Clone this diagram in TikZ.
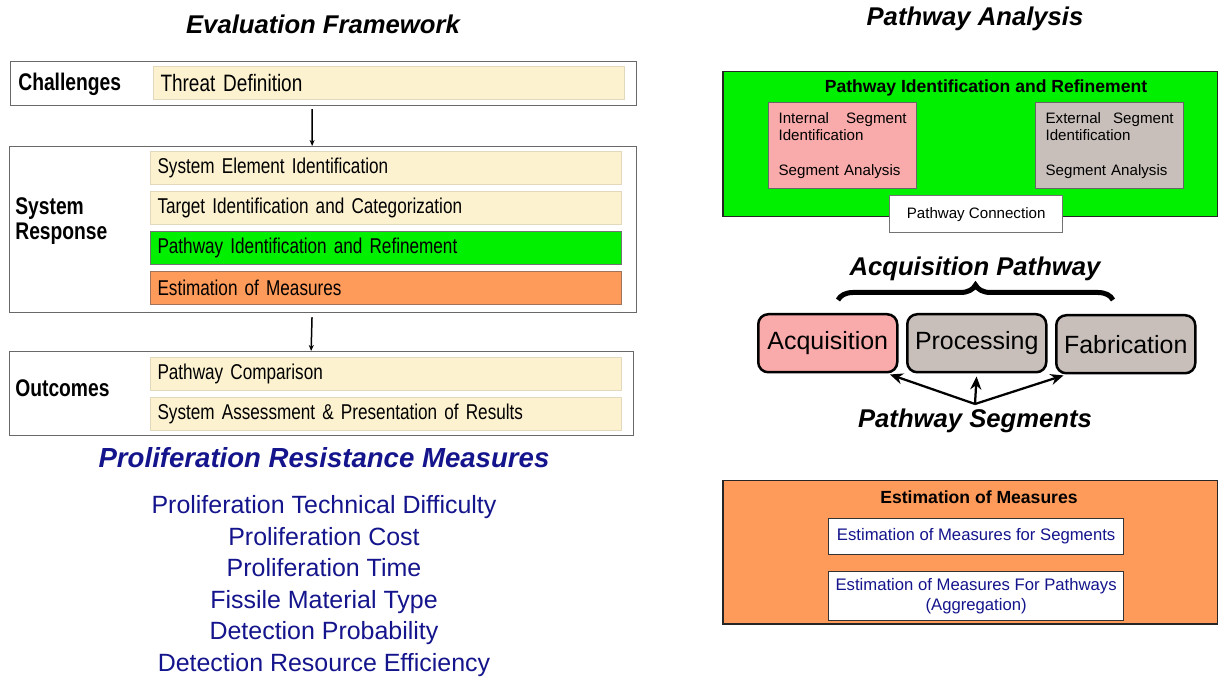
\documentclass[tikz,border=0pt]{standalone}
\usepackage{fontspec}
\setmainfont{Liberation Sans}
\newfontfamily\narrowsans[FakeStretch=0.8]{Liberation Sans}
\usetikzlibrary{arrows.meta,decorations.pathreplacing}

\definecolor{creamfill}{RGB}{252,242,208}
\definecolor{creamline}{RGB}{226,216,188}
\definecolor{greenfill}{RGB}{0,240,0}
\definecolor{orangefill}{RGB}{255,155,90}
\definecolor{orangeline}{RGB}{160,115,90}
\definecolor{pinkfill}{RGB}{249,170,170}
\definecolor{taupefill}{RGB}{200,191,186}
\definecolor{navytext}{RGB}{20,20,140}
\definecolor{frameline}{RGB}{105,105,105}

\newcommand\itemfont{\narrowsans\fontsize{12.2}{14}\selectfont\spaceskip=2.4pt plus 1pt\relax}
\newcommand\threatfont{\narrowsans\fontsize{13.5}{15}\selectfont\spaceskip=2.6pt plus 1pt\relax}

\begin{document}
\begin{tikzpicture}[x=0.2mm,y=-0.2mm,
  frame/.style={draw=frameline,line width=0.25mm,fill=white,anchor=north west,inner sep=0pt},
  item/.style={draw=creamline,line width=0.2mm,fill=creamfill,anchor=north west,
    minimum height=6.7mm,text width=91.4mm,inner xsep=1.4mm,inner ysep=0pt,align=left,
    font=\itemfont},
  stage/.style={anchor=west,inner sep=0pt,align=left,font=\narrowsans\bfseries\fontsize{13.7}{14.2}\selectfont},
  headline/.style={inner sep=0pt,font=\bfseries\itshape\fontsize{14.6}{17}\selectfont},
  panel/.style={draw=black!85,line width=0.3mm,anchor=north west,inner sep=0pt,minimum width=99mm},
  paneltitle/.style={inner sep=0pt,font=\bfseries\fontsize{10}{12}\selectfont},
  subbox/.style={draw=black!60,line width=0.25mm,anchor=north west,text width=25.6mm,inner xsep=2mm,
    minimum height=17.2mm,align=left,font=\fontsize{8.6}{9.7}\selectfont},
  segbox/.style={draw=black,line width=0.5mm,rounded corners=2mm,fill=taupefill,anchor=north west,
    minimum width=27.8mm,minimum height=11.6mm,inner sep=0pt,font=\fontsize{14.2}{16}\selectfont},
  estbox/.style={draw=black!80,line width=0.25mm,fill=white,anchor=north west,minimum width=59mm,
    inner sep=0pt,align=center,text=navytext,font=\fontsize{9.5}{11.5}\selectfont},
  flow/.style={line width=0.3mm,-{Stealth[length=1.2mm,width=1mm]}},
  pointer/.style={line width=0.45mm,shorten >=0.6mm,-{Stealth[length=2.6mm,width=2.2mm]}}]
\useasboundingbox (0,0) rectangle (1218,677);

% left column
\node[headline] (evaltitle) at (323,24) {Evaluation Framework};

\node[frame,minimum width=125.2mm,minimum height=8.8mm] (chal) at (10,61) {};
\node[stage] (challabel) at (18,84) {Challenges};
\node[item,font=\threatfont] (threat) at (153,66) {Threat Definition};

\node[frame,minimum width=125.4mm,minimum height=33.2mm] (sys) at (9,146) {};
\node[stage] (syslabel) at (15,221) {System\\Response};
\node[item] (elem) at (150,151) {System Element Identification};
\node[item] (target) at (150,191) {Target Identification and Categorization};
\node[item,fill=greenfill,draw=black!55] (pathid) at (150,231) {Pathway Identification and Refinement};
\node[item,fill=orangefill,draw=orangeline] (estim) at (150,271) {Estimation of Measures};

\node[frame,minimum width=124.8mm,minimum height=16.8mm] (outc) at (9,351) {};
\node[stage] (outlabel) at (15,388) {Outcomes};
\node[item] (compare) at (150,357) {Pathway Comparison};
\node[item] (assess) at (150,397) {System Assessment \& Presentation of Results};

\draw[flow,shorten <=0.6mm] ([xshift=-2.3mm]chal.south) -- ([xshift=-2.2mm]sys.north);
\draw[flow,shorten <=0.8mm] ([xshift=-2.2mm]sys.south) -- ([xshift=-2.1mm]outc.north);

\node[headline,text=navytext,font=\bfseries\itshape\fontsize{15.7}{18}\selectfont] (prmtitle) at (324,458)
  {Proliferation Resistance Measures};
\node[inner sep=0pt,align=center,text=navytext,font=\fontsize{14.2}{17.9}\selectfont] (prmlist) at (324,586)
  {Proliferation Technical Difficulty\\Proliferation Cost\\Proliferation Time\\Fissile Material Type\\
   Detection Probability\\Detection Resource Efficiency};

% right column
\node[headline] (pathtitle) at (975,19) {Pathway Analysis};

\node[panel,fill=greenfill,minimum height=29mm] (greenpanel) at (722,71) {};
\node[paneltitle] (greentitle) at (986,88) {Pathway Identification and Refinement};
\node[subbox,fill=pinkfill] (internal) at (768,102)
  {Internal\hskip0pt plus 1fill Segment\\Identification\\[3.6mm]Segment Analysis};
\node[subbox,fill=taupefill] (external) at (1035,102)
  {External\hskip0pt plus 1fill Segment\\Identification\\[3.6mm]Segment Analysis};
\node[draw=black!55,line width=0.25mm,fill=white,anchor=north west,minimum width=34.6mm,minimum height=7.4mm,
  inner sep=0pt,font=\fontsize{8.6}{10}\selectfont] (connect) at (889,195) {Pathway Connection};

\node[headline] (acqtitle) at (975,269) {Acquisition Pathway};
\coordinate (braceL) at (838,300);
\coordinate (braceR) at (1113,300);
\draw[decorate,decoration={brace,amplitude=3mm},line width=1mm] (braceL) -- (braceR);

\node[segbox,fill=pinkfill] (acq) at (757,313) {Acquisition};
\node[segbox] (proc) at (906,313) {Processing};
\node[segbox] (fab) at (1055,314) {Fabrication};

\node[headline] (segtitle) at (975,421) {Pathway Segments};
\coordinate (segtop) at (975,404);
\draw[pointer] (segtop) -- (acq.-27);
\draw[pointer] (segtop) -- (proc.south);
\draw[pointer] (segtop) -- (fab.-153);

\node[panel,fill=orangefill,minimum height=28.6mm] (orangepanel) at (722,480) {};
\node[paneltitle] (orangetitle) at (979,497) {Estimation of Measures};
\node[estbox,minimum height=7.2mm] (estseg) at (828,518) {Estimation of Measures for Segments};
\node[estbox,minimum height=9.8mm] (estpath) at (828,571) {Estimation of Measures For Pathways\\(Aggregation)};
\end{tikzpicture}
\end{document}
